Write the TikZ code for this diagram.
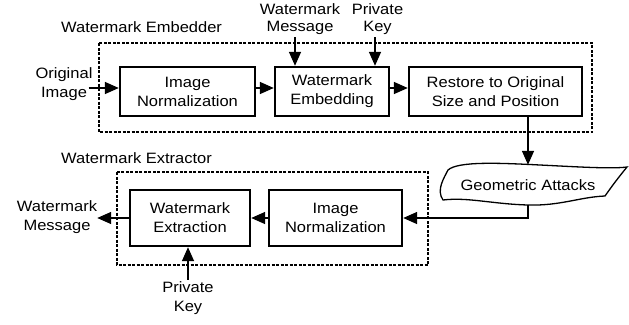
\documentclass[tikz,border=0pt]{standalone}
\usepackage{fontspec}
\setmainfont[FakeStretch=1.1]{Liberation Sans}
\usetikzlibrary{arrows.meta}
\begin{document}
\begin{tikzpicture}[x=1pt,y=-1pt,
  every node/.style={font=\fontsize{15pt}{19pt}\selectfont},
  blk/.style={draw, line width=2.4pt, align=center, inner sep=0pt},
  lbl/.style={align=center, inner sep=0pt},
  toplbl/.style={align=center, inner sep=0pt, font=\fontsize{15pt}{17pt}\selectfont},
  arr/.style={line width=1.5pt, -{Triangle[length=14pt,width=12pt]}},
  grp/.style={draw, line width=1.4pt, dash pattern=on 3pt off 1.5pt},
]
\useasboundingbox (0,0) rectangle (629,324);

% group frames
\draw[grp] (99,43) rectangle (592,132);
\draw[grp] (117,172) rectangle (428,265);
\node[lbl, anchor=base west] (embT) at (61,32) {Watermark Embedder};
\node[lbl, anchor=base west] (extT) at (61,163) {Watermark Extractor};

% top row
\node[blk, minimum width=135pt, minimum height=49pt] (norm1) at (187.5,91.5) {Image\\Normalization};
\node[blk, minimum width=114pt, minimum height=49pt] (embed) at (332,91.5) {Watermark\\Embedding};
\node[blk, minimum width=173pt, minimum height=49pt] (restore) at (495.5,91.5) {Restore to Original\\Size and Position};

\node[lbl] (orig) at (64,84) {Original\\Image};
\node[toplbl] (wm) at (300,19.5) {Watermark\\Message};
\node[toplbl] (pk1) at (377.5,19.5) {Private\\Key};

\draw[arr] ([shift={(-4pt,-4pt)}]orig.east) -- ([yshift=3.5pt]norm1.west);
\draw[arr] ([yshift=3.5pt]norm1.east) -- ([yshift=3.5pt]embed.west);
\draw[arr] ([yshift=3.5pt]embed.east) -- ([yshift=3.5pt]restore.west);
\draw[arr] ([xshift=-5pt,yshift=-2pt]wm.south) -- ([xshift=-5pt]wm.south |- embed.north);
\draw[arr] ([xshift=-2.5pt,yshift=-2pt]pk1.south) -- ([xshift=-2.5pt]pk1.south |- embed.north);

% geometric attacks
\node[lbl, minimum height=40pt, minimum width=150pt] (geo) at (528,185) {Geometric Attacks};
\draw[line width=1.3pt] (448,170) .. controls (458,161) and (500,163) .. (540,165)
  .. controls (580,167) and (612,169) .. (627,167)
  .. controls (618,178) and (612,186) .. (605,196)
  .. controls (580,197) and (560,206) .. (528,205)
  .. controls (492,204) and (468,197) .. (443,200)
  .. controls (436,190) and (444,178) .. cycle;
\draw[arr] (restore.south -| geo.north) -- (geo.north);

% bottom row
\node[blk, minimum width=120pt, minimum height=56pt] (extract) at (190,218) {Watermark\\Extraction};
\node[blk, minimum width=133pt, minimum height=56pt] (norm2) at (335.5,218) {Image\\Normalization};
\node[lbl] (msg) at (57,217) {Watermark\\Message};
\node[lbl, inner sep=2pt] (pk2) at (188,298.5) {Private\\Key};

\draw[arr] (geo.south) |- (norm2.east);
\draw[arr] (norm2.west) -- (extract.east);
\draw[arr] (extract.west) -- (extract.west -| msg.east);
\draw[arr] (pk2.north) -- (pk2.north |- extract.south);
\end{tikzpicture}
\end{document}
